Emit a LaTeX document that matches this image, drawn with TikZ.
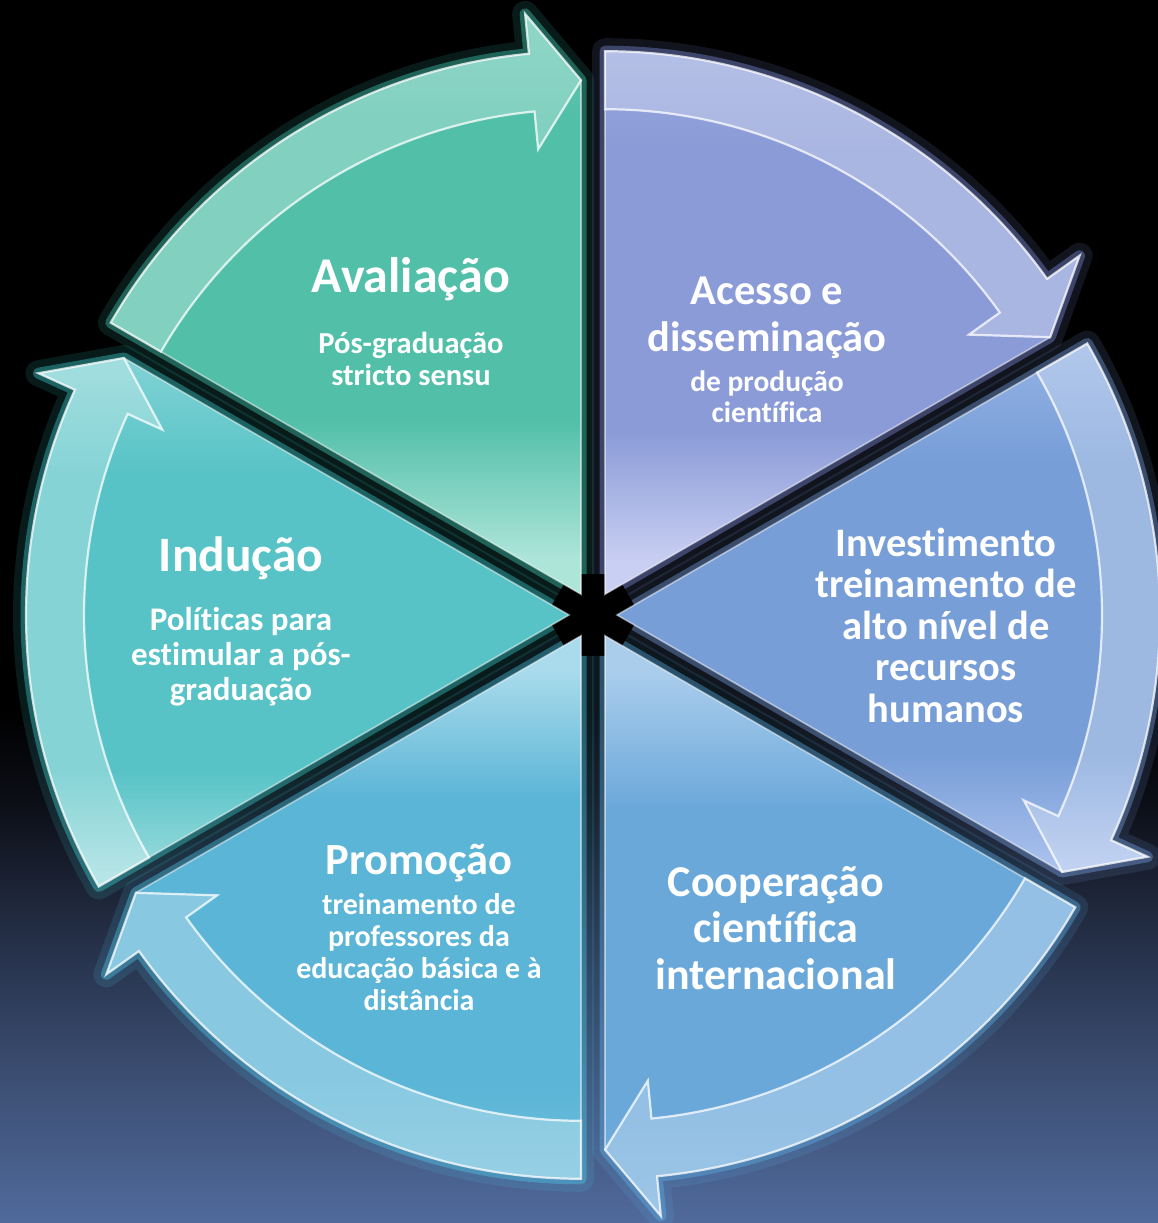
\documentclass[tikz,border=0pt]{standalone}
\usepackage{fontspec}
\setmainfont{Carlito}[Ligatures={NoCommon,NoContextual}]
\usetikzlibrary{calc}

\definecolor{bgA}{HTML}{506A9C}
\definecolor{bgB}{HTML}{3F5379}
\definecolor{bgC}{HTML}{28344E}
\definecolor{bgD}{HTML}{0C0E16}

\definecolor{avB}{HTML}{52BFA9}\definecolor{avL}{HTML}{AEE5D9}\definecolor{avG}{HTML}{45D6BE}
\definecolor{acB}{HTML}{8A9BD7}\definecolor{acL}{HTML}{C9CFF3}\definecolor{acG}{HTML}{8494E6}
\definecolor{inB}{HTML}{789ED8}\definecolor{inL}{HTML}{A8C0EC}\definecolor{inG}{HTML}{7FA8EC}
\definecolor{coB}{HTML}{6AA8DA}\definecolor{coL}{HTML}{AACDEC}\definecolor{coG}{HTML}{5FB4EC}
\definecolor{prB}{HTML}{5BB5D6}\definecolor{prL}{HTML}{AADBEC}\definecolor{prG}{HTML}{50CDEE}
\definecolor{idB}{HTML}{57C3C6}\definecolor{idL}{HTML}{9CDCDE}\definecolor{idG}{HTML}{40D6D6}

\pgfdeclareverticalshading{bgshade}{100bp}{color(0bp)=(bgA); color(25bp)=(bgA); color(30bp)=(bgB); color(35.8bp)=(bgC); color(42.3bp)=(bgD); color(46bp)=(black); color(100bp)=(black)}
\pgfdeclarehorizontalshading[segL,segB]{segshade}{100bp}{color(0bp)=(segL); color(28bp)=(segL); color(40bp)=(segB); color(66bp)=(segB); color(78bp)=(segB!70!segL); color(100bp)=(segB!70!segL)}
\pgfdeclareverticalshading[segL,segB]{sideshade}{100bp}{color(0bp)=(segL); color(26bp)=(segL); color(36bp)=(segB); color(64bp)=(segB); color(74bp)=(segB!45!segL); color(100bp)=(segB!45!segL)}

\tikzset{
  lbl/.style={text=white, align=center, inner sep=0pt},
  bandfill/.style={white, opacity=.28},
  bandedge/.style={draw=white, draw opacity=.75, line width=2.2, line join=miter},
  rim/.style={draw=white, draw opacity=.5, line width=1.6, line join=miter}
}

\begin{document}
\begin{tikzpicture}[x=1pt,y=1pt]
\useasboundingbox (0,0) rectangle (1158,1223);
\shade[shading=bgshade] (0,0) rectangle (1158,1223);
\coordinate (O) at (593,608);

% glows
\foreach \ang/\gc in {120/avG,60/acG,0/inG,-60/coG,-120/prG,180/idG}{
  \begin{scope}[shift={(593,608)},shift={(\ang:24)}]
    \draw[\gc, line width=26, opacity=.13, line join=round]
      (\ang+30:20) -- (\ang+30:543) arc[start angle=\ang+30,end angle=\ang-24.5,radius=543]
      -- (\ang-24.5:583) -- (\ang-30:514) -- (\ang-30:20);
    \draw[\gc, line width=11, opacity=.38, line join=round]
      (\ang+30:20) -- (\ang+30:543) arc[start angle=\ang+30,end angle=\ang-24.5,radius=543]
      -- (\ang-24.5:583) -- (\ang-30:514) -- (\ang-30:20);
  \end{scope}
}

% segments
\foreach \ang/\bc/\lc/\sh/\sa in {120/avB/avL/segshade/90,60/acB/acL/segshade/90,0/inB/inL/sideshade/0,-60/coB/coL/segshade/-90,-120/prB/prL/segshade/-90,180/idB/idL/sideshade/0}{
  \begin{scope}[shift={(593,608)},shift={(\ang:24)}]
    \colorlet{segL}{\lc}\colorlet{segB}{\bc}
    \shade[shading=\sh, shading angle=\sa]
      (0,0) -- (\ang+30:543) arc[start angle=\ang+30,end angle=\ang-24.5,radius=543]
      -- (\ang-24.5:583) -- (\ang-30:514) -- cycle;
    \fill[bandfill]
      (\ang+30:485) -- (\ang+30:543) arc[start angle=\ang+30,end angle=\ang-24.5,radius=543]
      -- (\ang-24.5:583) -- (\ang-30:514) -- (\ang-24.5:447) -- (\ang-24.5:485)
      arc[start angle=\ang-24.5,end angle=\ang+30,radius=485] -- cycle;
    \path[bandedge]
      (\ang+30:485) -- (\ang+30:543) arc[start angle=\ang+30,end angle=\ang-24.5,radius=543]
      -- (\ang-24.5:583) -- (\ang-30:514) -- (\ang-24.5:447) -- (\ang-24.5:485)
      arc[start angle=\ang-24.5,end angle=\ang+30,radius=485] -- cycle;
    \path[rim] (\ang-30:514) -- (0,0) -- (\ang+30:485);
  \end{scope}
}

% labels
\node[lbl, font=\bfseries\fontsize{50}{54}\selectfont] (av) at (411,944) {Avaliação};
\node[lbl, font=\bfseries\fontsize{30.5}{32}\selectfont] (avs) at (411,864) {Pós-graduação\\stricto sensu};

\node[lbl, font=\bfseries\fontsize{42.5}{47}\selectfont] (ac) at (767,905) {Acesso e\\disseminação};
\node[lbl, font=\bfseries\fontsize{29.5}{31}\selectfont] (acs) at (767,826) {de produção\\científica};

\node[lbl, font=\bfseries\fontsize{40.5}{41.5}\selectfont] (inv) at (946,598) {Investimento\\treinamento de\\alto nível de\\recursos\\humanos};

\node[lbl, font=\bfseries\fontsize{44}{46.5}\selectfont] (coop) at (776,295) {Cooperação\\científica\\internacional};

\node[lbl, font=\bfseries\fontsize{44.5}{47}\selectfont] (pro) at (419,360) {Promoção};
\node[lbl, font=\bfseries\fontsize{30}{32}\selectfont] (pros) at (419,271) {treinamento de\\professores da\\educação básica e à\\distância};

\node[lbl, font=\bfseries\fontsize{49.5}{52}\selectfont] (ind) at (241,665) {Indução};
\node[lbl, font=\bfseries\fontsize{33}{35}\selectfont] (inds) at (241,566) {Políticas para\\estimular a pós-\\graduação};
\end{tikzpicture}
\end{document}
